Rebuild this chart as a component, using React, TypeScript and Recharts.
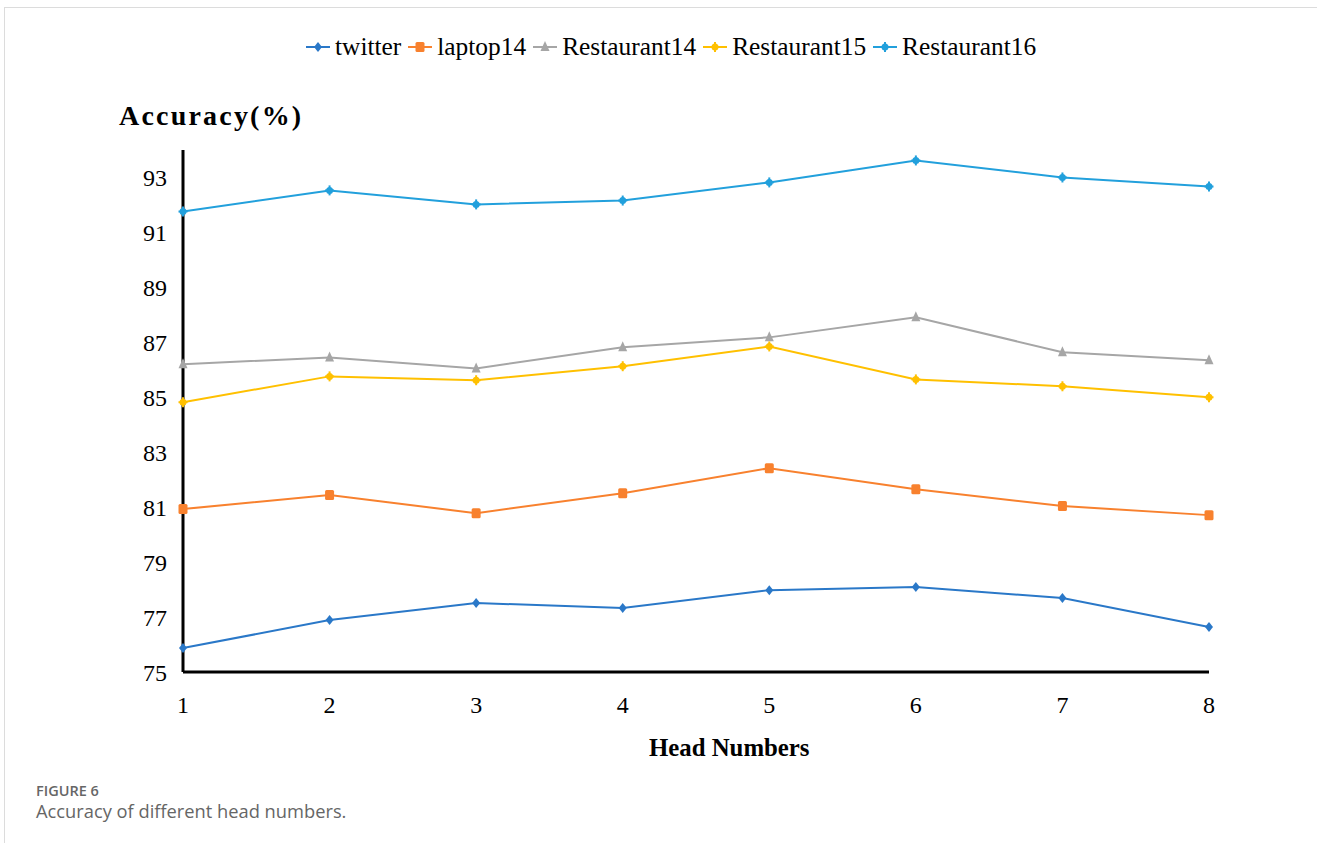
import React from 'react';
import { LineChart, Line, XAxis, YAxis } from 'recharts';

const heads = [1, 2, 3, 4, 5, 6, 7, 8];
const twitter = [75.87, 76.89, 77.51, 77.33, 77.98, 78.09, 77.69, 76.64];
const laptop14 = [80.93, 81.44, 80.78, 81.51, 82.42, 81.65, 81.04, 80.71];
const restaurant14 = [86.2, 86.45, 86.05, 86.82, 87.18, 87.91, 86.64, 86.35];
const restaurant15 = [84.82, 85.76, 85.62, 86.13, 86.85, 85.65, 85.4, 85.0];
const restaurant16 = [91.76, 92.53, 92.02, 92.16, 92.82, 93.62, 93.0, 92.67];
const yTicks = [75, 77, 79, 81, 83, 85, 87, 89, 91, 93];

type Marker = 'diamond' | 'square' | 'triangle' | 'star' | 'burst';

const series: { key: string; name: string; color: string; marker: Marker; values: number[] }[] = [
  { key: 'twitter', name: 'twitter', color: '#2a78c8', marker: 'diamond', values: twitter },
  { key: 'laptop14', name: 'laptop14', color: '#f8812e', marker: 'square', values: laptop14 },
  { key: 'restaurant14', name: 'Restaurant14', color: '#a6a6a6', marker: 'triangle', values: restaurant14 },
  { key: 'restaurant15', name: 'Restaurant15', color: '#ffc000', marker: 'star', values: restaurant15 },
  { key: 'restaurant16', name: 'Restaurant16', color: '#22a0dc', marker: 'burst', values: restaurant16 },
];

const data = heads.map((h, i) => {
  const row: Record<string, number> = { head: h };
  series.forEach((s) => {
    row[s.key] = s.values[i];
  });
  return row;
});

const SERIF = '"Liberation Serif", "Times New Roman", serif';

function MarkerShape({ type, cx, cy, color }: { type: Marker; cx: number; cy: number; color: string }) {
  if (cx == null || cy == null) return null;
  switch (type) {
    case 'diamond':
      return <polygon points={`${cx},${cy - 5} ${cx + 4},${cy} ${cx},${cy + 5} ${cx - 4},${cy}`} fill={color} />;
    case 'square':
      return <rect x={cx - 4.5} y={cy - 5} width={9} height={10} rx={1.5} fill={color} />;
    case 'triangle':
      return <polygon points={`${cx},${cy - 6} ${cx + 4.5},${cy + 4} ${cx - 4.5},${cy + 4}`} fill={color} />;
    case 'star':
    case 'burst':
      return (
        <g fill={color} stroke={color}>
          <circle cx={cx} cy={cy} r={3.5} stroke="none" />
          <line x1={cx} y1={cy - 5} x2={cx} y2={cy + 5} strokeWidth={2} />
          <line x1={cx - 4.5} y1={cy} x2={cx + 4.5} y2={cy} strokeWidth={2} />
        </g>
      );
    default:
      return null;
  }
}

function LegendItem({ name, color, marker }: { name: string; color: string; marker: Marker }) {
  return (
    <div style={{ display: 'flex', alignItems: 'center', marginRight: 7 }}>
      <svg width={24} height={14} style={{ marginRight: 5 }}>
        <line x1={0} y1={7} x2={24} y2={7} stroke={color} strokeWidth={2} />
        <MarkerShape type={marker} cx={12} cy={7} color={color} />
      </svg>
      <span>{name}</span>
    </div>
  );
}

export default function App() {
  return (
    <div style={{ position: 'relative', width: 1317, height: 843, background: '#fff', overflow: 'hidden' }}>
      <style>{'body{margin:0}'}</style>
      <div
        style={{
          position: 'absolute',
          left: 4,
          top: 7,
          width: 1400,
          height: 900,
          borderTop: '1.5px solid #dcdcdc',
          borderLeft: '1.5px solid #dcdcdc',
        }}
      />
      <div
        style={{
          position: 'absolute',
          left: 306,
          top: 32,
          display: 'flex',
          fontFamily: SERIF,
          fontSize: 25.4,
          color: '#000',
          whiteSpace: 'nowrap',
        }}
      >
        {series.map((s) => (
          <LegendItem key={s.key} name={s.name} color={s.color} marker={s.marker} />
        ))}
      </div>
      <div
        style={{
          position: 'absolute',
          left: 119,
          top: 100,
          fontFamily: SERIF,
          fontSize: 28,
          fontWeight: 'bold',
          letterSpacing: 2.2,
          color: '#000',
          whiteSpace: 'nowrap',
        }}
      >
        Accuracy(%)
      </div>
      <div
        style={{
          position: 'absolute',
          left: 649,
          top: 734,
          fontFamily: SERIF,
          fontSize: 24.8,
          fontWeight: 'bold',
          color: '#000',
          whiteSpace: 'nowrap',
        }}
      >
        Head Numbers
      </div>
      <div style={{ position: 'absolute', left: 36, top: 782, fontFamily: '"Open Sans", sans-serif', color: '#666' }}>
        <div style={{ fontSize: 14.5, fontWeight: 600, lineHeight: '18px' }}>FIGURE 6</div>
        <div style={{ fontSize: 18.3, lineHeight: '22px' }}>Accuracy of different head numbers.</div>
      </div>
      <div style={{ position: 'absolute', left: 0, top: 0 }}>
        <LineChart width={1317} height={843} data={data} margin={{ top: 150, right: 108, bottom: 111, left: 123 }}>
          <XAxis
            dataKey="head"
            type="number"
            domain={[1, 8]}
            ticks={heads}
            height={60}
            axisLine={{ stroke: '#000', strokeWidth: 3 }}
            tickLine={false}
            tickSize={0}
            tickMargin={24}
            tick={{ fill: '#000', fontSize: 24, fontFamily: SERIF }}
          />
          <YAxis
            type="number"
            domain={[75, 94]}
            ticks={yTicks}
            width={60}
            axisLine={{ stroke: '#000', strokeWidth: 3 }}
            tickLine={false}
            tickSize={0}
            tickMargin={16}
            tick={{ fill: '#000', fontSize: 24, fontFamily: SERIF }}
          />
          {series.map((s) => (
            <Line
              key={s.key}
              dataKey={s.key}
              name={s.name}
              type="linear"
              stroke={s.color}
              strokeWidth={2}
              isAnimationActive={false}
              dot={(p: any) => <MarkerShape key={`${s.key}-${p.index}`} type={s.marker} cx={p.cx} cy={p.cy} color={s.color} />}
              activeDot={false}
            />
          ))}
        </LineChart>
      </div>
    </div>
  );
}
